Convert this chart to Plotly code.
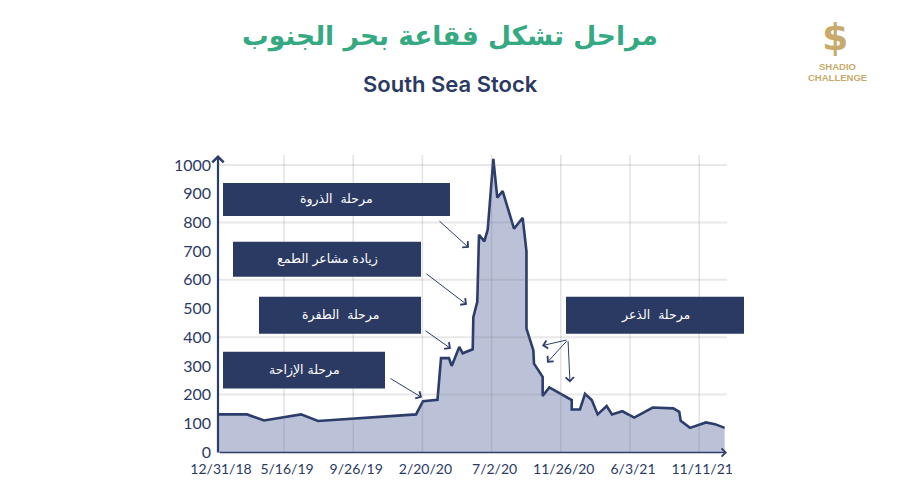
import plotly.graph_objects as go

# position along the axis in tick steps (the axis is evenly spaced per label, not by date)
steps = [0.046, 0.465, 0.711, 1.246, 1.491, 2.908, 3.009, 3.218, 3.269, 3.384,
         3.423, 3.533, 3.582, 3.727, 3.736, 3.793, 3.818, 3.895, 3.944, 4.025,
         4.082, 4.160, 4.324, 4.449, 4.504, 4.504, 4.603, 4.613, 4.738, 4.738,
         4.834, 5.158, 5.158, 5.277, 5.350, 5.447, 5.533, 5.663, 5.740, 5.889,
         6.062, 6.328, 6.626, 6.712, 6.733, 6.867, 7.098, 7.228, 7.368]
prices = [131, 131, 110, 131, 108, 131, 177, 182, 327, 327,
          300, 366, 344, 358, 470, 523, 757, 734, 775, 1021,
          886, 909, 778, 816, 699, 430, 355, 308, 262, 195,
          225, 181, 148, 148, 203, 181, 131, 160, 131, 142,
          120, 155, 152, 140, 109, 84, 103, 97, 84]

tick_steps = [0.046, 1, 2, 3, 4, 5, 6, 7]
tick_labels = ['12/31/18', '5/16/19', '9/26/19', '2/20/20', '7/2/20', '11/26/20', '6/3/21', '11/11/21']
y_ticks = [0, 100, 200, 300, 400, 500, 600, 700, 800, 900, 1000]

title_ar = 'مراحل تشكل فقاعة بحر الجنوب'
subtitle = 'South Sea Stock'

NAVY = '#2b3a63'
LINE = '#2d3d6b'
GREEN = '#35a982'
GOLD = '#c8ab6c'

W, H = 900, 500
L, R, T, B = 218, 727, 155, 452.5


def px(x):
    return (x - L) / (R - L)


def py(y):
    return (B - y) / (B - T)


def label(x, y, text, font):
    fig.add_annotation(xref='paper', yref='paper', x=px(x), y=py(y), text=text, showarrow=False,
                       xanchor='center', yanchor='middle', font=font)


# box text, left, top, right, bottom in page pixels
boxes = [
    ('مرحلة  الذروة', 223, 183, 450, 216),
    ('زيادة مشاعر الطمع', 233, 242, 421, 277),
    ('مرحلة  الطفرة', 259, 297, 421, 334),
    ('مرحلة الإزاحة', 223, 352, 385, 389),
    ('مرحلة  الذعر', 566, 297, 744, 334),
]
# tail x, tail y, head x, head y
arrows = [
    (438, 220, 469, 248),
    (425, 273, 467, 305),
    (424, 330, 451, 349),
    (389, 378, 422, 398),
    (568, 340, 542, 346),
    (568, 340, 547, 363),
    (568, 340, 570, 383),
]

fig = go.Figure()
fig.add_trace(go.Scatter(
    x=steps, y=prices, mode='lines', fill='tozeroy',
    line=dict(color=LINE, width=2.6),
    fillcolor='rgba(60,80,140,0.35)',
    hoverinfo='skip', showlegend=False,
))

for v in y_ticks[2::2]:
    fig.add_hline(y=v, line_color='rgba(120,120,130,0.17)', line_width=2, layer='above')
for v in tick_steps[1:]:
    fig.add_vline(x=v, line_color='rgba(110,110,135,0.2)', line_width=1.5, layer='above')

for text, x0, y0, x1, y1 in boxes:
    fig.add_shape(type='rect', xref='paper', yref='paper', x0=px(x0), x1=px(x1), y0=py(y0), y1=py(y1),
                  fillcolor=NAVY, line_width=0, layer='above')
    label((x0 + x1) / 2, (y0 + y1) / 2, text, dict(family='DejaVu Sans', size=12.5, color='white'))

for tx, ty, hx, hy in arrows:
    fig.add_annotation(xref='paper', yref='paper', x=px(hx), y=py(hy), ax=tx - hx, ay=ty - hy,
                       axref='pixel', ayref='pixel', text='', showarrow=True,
                       arrowhead=4, arrowsize=1.6, arrowwidth=1, arrowcolor=LINE)

# axis lines with their arrow tips
fig.add_annotation(xref='paper', yref='paper', x=px(218), y=py(155), ax=0, ay=299,
                   axref='pixel', ayref='pixel', text='', showarrow=True,
                   arrowhead=4, arrowsize=1, arrowwidth=2.2, arrowcolor=LINE)
fig.add_annotation(xref='paper', yref='paper', x=px(727), y=py(453), ax=-509, ay=0,
                   axref='pixel', ayref='pixel', text='', showarrow=True,
                   arrowhead=4, arrowsize=1, arrowwidth=1.6, arrowcolor=LINE)

label(450, 36, title_ar, dict(family='DejaVu Sans', size=26.5, color=GREEN, weight='bold'))
label(450, 84, subtitle, dict(family='Inter', size=22, color=NAVY, weight=600))

# logo
label(835, 37, '$', dict(family='DejaVu Sans', size=38, color=GOLD, weight='bold'))
label(837, 66, 'SHADIO', dict(family='Liberation Sans', size=9.5, color=GOLD, weight='bold'))
label(837, 77, 'CHALLENGE', dict(family='Liberation Sans', size=9.5, color=GOLD, weight='bold'))

fig.update_xaxes(range=[0.046, 7.402], tickvals=tick_steps, ticktext=tick_labels,
                 showgrid=False, zeroline=False, showline=False, ticks='',
                 ticklabelshift=3, ticklabelstandoff=7, tickfont=dict(size=14))
fig.update_yaxes(range=[0, 1034.8], tickvals=y_ticks, showgrid=False, zeroline=False,
                 showline=False, ticks='', ticklabelstandoff=6, tickfont=dict(size=16))
fig.update_layout(
    width=W, height=H,
    margin=dict(l=L, r=W - R, t=T, b=H - B, autoexpand=False),
    paper_bgcolor='white', plot_bgcolor='white',
    font=dict(family='Lato', color=NAVY),
    showlegend=False,
)

fig.write_html("out.html", config=dict(displayModeBar=False),
               post_script="document.body.style.margin='0';")
